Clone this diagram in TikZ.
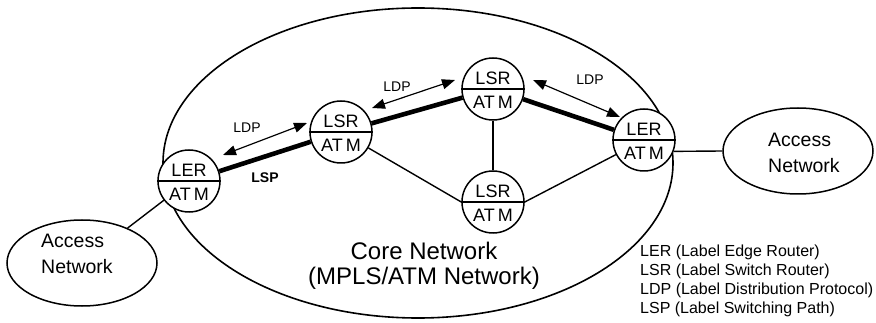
\documentclass[tikz,border=0pt]{standalone}
\usepackage{fontspec}
\setmainfont{Liberation Sans}
\usetikzlibrary{arrows.meta,calc,shapes.geometric}
\tikzset{
  rtr/.style={circle, draw, line width=1.5pt, fill=white, minimum size=62pt, inner sep=0pt},
  rtrtxt/.style={font=\fontsize{18}{18}\selectfont, inner sep=0pt, anchor=base},
  thinline/.style={line width=1.4pt},
  lspline/.style={line width=4.6pt},
  ldparrow/.style={line width=1.2pt, {Triangle[length=13pt,width=10pt]}-{Triangle[length=13pt,width=10pt]}},
  accnet/.style={ellipse, draw, line width=1.5pt, minimum width=150pt, minimum height=86pt, inner sep=0pt},
  lbl/.style={font=\fontsize{14}{14}\selectfont, inner sep=0pt},
  acctxt/.style={font=\fontsize{19.5}{26}\selectfont, align=left, inner sep=0pt, anchor=west},
  legtxt/.style={font=\fontsize{16}{16}\selectfont, inner sep=0pt, anchor=base west},
}
\newcommand{\router}[4]{%
  \node[rtr] (#1) at (#2) {};
  \draw[thinline] (#1.west) -- (#1.east);
  \node[rtrtxt] (#1-t) at ($(#1.center)+(0,-4)$) {#3};
  \node[rtrtxt] (#1-b) at ($(#1.center)+(0,20)$) {#4};
}
\begin{document}
\begin{tikzpicture}[x=1pt,y=-1pt]
\useasboundingbox (0,0) rectangle (876,323);
% core network
\node[ellipse, draw, line width=1.6pt, minimum width=510pt, minimum height=310pt, inner sep=0pt] (core) at (418,163) {};
\node[font=\fontsize{24}{25}\selectfont, align=center, inner sep=0pt] (coretxt) at (424,266) {Core Network\\(MPLS/ATM Network)};
% access networks
\node[accnet] (accL) at (82,263) {};
\node[acctxt] (accLt) at (41,254) {Access\\Network};
\node[accnet] (accR) at (798,151) {};
\node[acctxt] (accRt) at (768,153) {Access\\Network};
% routers
\router{lerL}{189,181}{LER}{AT\hspace{3pt}M}
\router{lsrA}{341,132}{LSR}{AT\hspace{3pt}M}
\router{lsrB}{493,89}{LSR}{AT\hspace{3pt}M}
\router{lsrC}{493,202}{LSR}{AT\hspace{3pt}M}
\router{lerR}{644,140}{LER}{AT\hspace{3pt}M}
% thin links
\draw[thinline] (lerL) -- (accL);
\draw[thinline] (lerR.-21) -- (accR.west);
\draw[thinline] (lsrA) -- (lsrC.west);
\draw[thinline] (lsrB) -- (lsrC);
\draw[thinline] (lsrC.east) -- (lerR);
% LSP
\draw[lspline] (lerL) -- (lsrA);
\draw[lspline] (lsrA) -- (lsrB);
\draw[lspline] (lsrB) -- (lerR);
\node[font=\bfseries\fontsize{14}{14}\selectfont, inner sep=0pt] (lsptxt) at (265,178) {LSP};
% LDP
\coordinate (d1a) at (223,155); \coordinate (d1b) at (307,123);
\coordinate (d2a) at (372,108); \coordinate (d2b) at (455,80);
\coordinate (d3a) at (533,80);  \coordinate (d3b) at (620,117);
\draw[ldparrow] (d1a) -- (d1b);
\draw[ldparrow] (d2a) -- (d2b);
\draw[ldparrow] (d3a) -- (d3b);
\node[lbl] (ldp1) at (247,128) {LDP};
\node[lbl] (ldp2) at (397,87) {LDP};
\node[lbl] (ldp3) at (590,80) {LDP};
% legend
\node[legtxt] (leg1) at (640,256.5) {LER (Label Edge Router)};
\node[legtxt] (leg2) at (640,275.5) {LSR (Label Switch Router)};
\node[legtxt] (leg3) at (640,294.5) {LDP (Label Distribution Protocol)};
\node[legtxt] (leg4) at (640,313.5) {LSP (Label Switching Path)};
\end{tikzpicture}
\end{document}
